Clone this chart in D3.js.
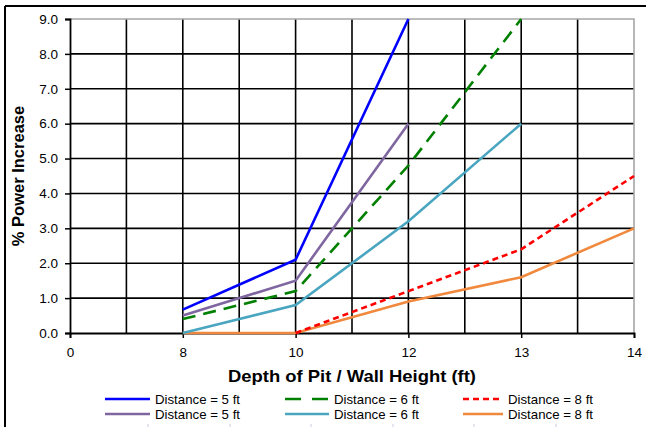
<!DOCTYPE html>
<html>
<head>
<meta charset="utf-8">
<script src="https://cdn.jsdelivr.net/npm/d3@7"></script>
<style>
    body { margin: 0; background: #fff; }
    text { font-family: Arial, "Liberation Sans", sans-serif; fill: #000; }
</style>
</head>
<body>
<script>
    //chart values
    let categories = ["0", "8", "10", "12", "13", "14"];
    let yTicks = [0, 1, 2, 3, 4, 5, 6, 7, 8, 9];
    let seriesNames = ["Distance = 5 ft", "Distance = 6 ft", "Distance = 8 ft",
        "Distance = 5 ft", "Distance = 6 ft", "Distance = 8 ft"];
    let blue5 = [null, 0.67, 2.1, 9.0, null, null];
    let green6 = [null, 0.4, 1.2, 4.8, 9.0, null];
    let red8 = [null, null, 0.0, 1.2, 2.4, 4.5];
    let purple5 = [null, 0.5, 1.5, 6.0, null, null];
    let teal6 = [null, 0.0, 0.8, 3.2, 6.0, null];
    let orange8 = [null, 0.0, 0.0, 0.9, 1.6, 3.0];

(function() {
    let width = 646, height = 427;
    let plotLeft = 70, plotRight = 634, plotTop = 19, plotBottom = 333;

    let svg = d3.select("body")
        .append("svg")
        .attr("width", width)
        .attr("height", height);

    //outer frame (top and left edges visible)
    svg.append("line").attr("x1", 5).attr("x2", 646).attr("y1", 6).attr("y2", 6)
        .attr("stroke", "#000").attr("stroke-width", 2);
    svg.append("line").attr("x1", 5).attr("x2", 5).attr("y1", 6).attr("y2", 427)
        .attr("stroke", "#000").attr("stroke-width", 2);

    let x = d3.scaleLinear().domain([0, categories.length - 1]).range([plotLeft, plotRight]);
    let y = d3.scaleLinear().domain([0, 9]).range([plotBottom, plotTop]);

    //horizontal gridlines
    svg.selectAll(".hgrid")
        .data(yTicks.filter(function(d){ return d > 0 && d < 9; }))
        .enter()
        .append("line")
        .attr("class", "hgrid")
        .attr("x1", plotLeft).attr("x2", plotRight)
        .attr("y1", function(d){ return y(d); })
        .attr("y2", function(d){ return y(d); })
        .attr("stroke", "#000").attr("stroke-width", 1.6);

    //vertical gridlines every half category
    let halfSteps = d3.range(1, (categories.length - 1) * 2).map(function(i){ return i / 2; });
    svg.selectAll(".vgrid")
        .data(halfSteps)
        .enter()
        .append("line")
        .attr("class", "vgrid")
        .attr("x1", function(d){ return x(d); })
        .attr("x2", function(d){ return x(d); })
        .attr("y1", plotTop).attr("y2", plotBottom)
        .attr("stroke", "#000").attr("stroke-width", 1.6);

    //gray plot border on top and right
    svg.append("path")
        .attr("d", "M" + plotLeft + "," + plotTop + "H" + plotRight + "V" + plotBottom)
        .attr("fill", "none")
        .attr("stroke", "#a6a6a6").attr("stroke-width", 1.6);

    //y axis
    let yAxis = svg.append("g")
        .attr("transform", "translate(" + plotLeft + ",0)")
        .call(d3.axisLeft(y).tickValues(yTicks).tickFormat(d3.format(".1f")).tickSize(5).tickPadding(7));
    //x axis
    let xAxis = svg.append("g")
        .attr("transform", "translate(0," + plotBottom + ")")
        .call(d3.axisBottom(x).tickValues(d3.range(categories.length))
            .tickFormat(function(i){ return categories[i]; }).tickSize(5).tickPadding(9));

    [yAxis, xAxis].forEach(function(ax){
        ax.select(".domain").attr("stroke", "#000").attr("stroke-width", 1.8);
        ax.selectAll(".tick line").attr("stroke", "#000").attr("stroke-width", 1.5);
        ax.selectAll("text").style("font-size", "13.5px").attr("fill", "#000")
            .style("font-family", "Arial, 'Liberation Sans', sans-serif");
    });

    let series = [
        { name: seriesNames[0], values: blue5, color: "#0000ff", dash: null },
        { name: seriesNames[1], values: green6, color: "#008000", dash: "13,8" },
        { name: seriesNames[2], values: red8, color: "#ff0000", dash: "6,4" },
        { name: seriesNames[3], values: purple5, color: "#7f66a0", dash: null },
        { name: seriesNames[4], values: teal6, color: "#4aa6c0", dash: null },
        { name: seriesNames[5], values: orange8, color: "#f0893e", dash: null }
    ];

    let line = d3.line()
        .defined(function(d){ return d != null; })
        .x(function(d, i){ return x(i); })
        .y(function(d){ return y(d); });

    //draw in back-to-front order similar to the picture
    let drawOrder = [5, 2, 4, 1, 3, 0];
    drawOrder.forEach(function(k){
        let s = series[k];
        svg.append("path")
            .datum(s.values)
            .attr("d", line)
            .attr("fill", "none")
            .attr("stroke", s.color)
            .attr("stroke-width", 2.6)
            .attr("stroke-dasharray", s.dash);
    });

    //axis titles
    svg.append("text")
        .attr("x", 228).attr("y", 382)
        .attr("textLength", 248).attr("lengthAdjust", "spacingAndGlyphs")
        .style("font-size", "17px").style("font-weight", "bold")
        .text("Depth of Pit / Wall Height (ft)");
    svg.append("text")
        .attr("transform", "translate(24," + ((plotTop + plotBottom) / 2) + ") rotate(-90)")
        .attr("text-anchor", "middle")
        .style("font-size", "16.5px").style("font-weight", "bold")
        .text("% Power Increase");

    //legend, two rows by three columns
    let colX = [105, 285, 463];
    let colW = [45, 44, 40];
    let rowY = [399, 414];
    series.forEach(function(s, i){
        let c = i % 3, r = Math.floor(i / 3);
        svg.append("line")
            .attr("x1", colX[c]).attr("x2", colX[c] + colW[c])
            .attr("y1", rowY[r]).attr("y2", rowY[r])
            .attr("stroke", s.color).attr("stroke-width", 2.6)
            .attr("stroke-dasharray", s.dash ? (c === 1 ? "16,11" : "6,4") : null);
        svg.append("text")
            .attr("x", colX[c] + colW[c] + 5)
            .attr("y", rowY[r] + 4.5)
            .attr("textLength", 85).attr("lengthAdjust", "spacingAndGlyphs")
            .style("font-size", "13.5px")
            .text(s.name);
    });

    //faint marks along the bottom edge
    svg.selectAll(".mark")
        .data([148, 230, 311, 393, 474, 556])
        .enter()
        .append("line")
        .attr("x1", function(d){ return d; }).attr("x2", function(d){ return d; })
        .attr("y1", 424).attr("y2", 427)
        .attr("stroke", "#c8d0dc").attr("stroke-width", 1);
})();
</script>
</body>
</html>
